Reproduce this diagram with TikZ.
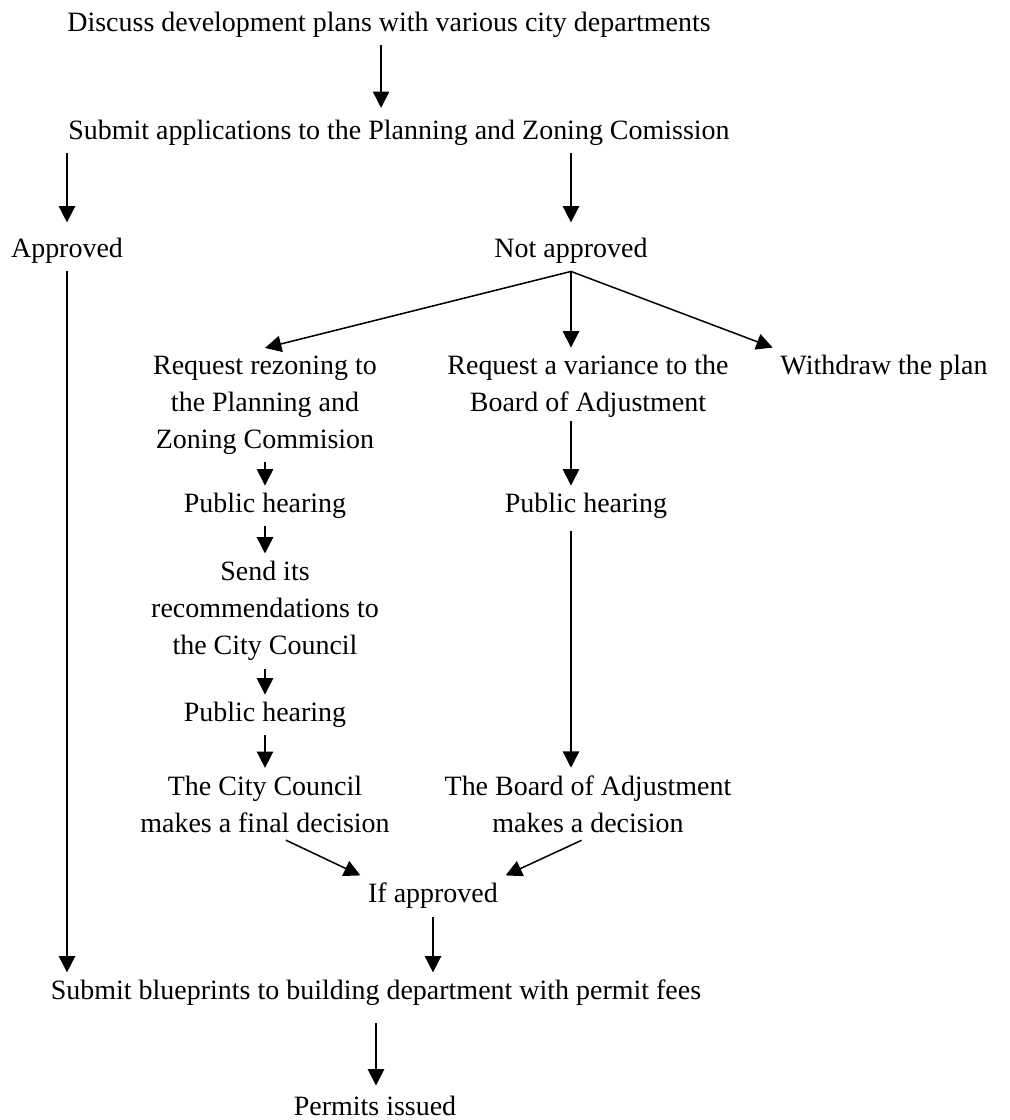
\documentclass[tikz,border=0pt]{standalone}
\usepackage{fontspec}
\setmainfont{Liberation Serif}
\usetikzlibrary{positioning,arrows.meta}
\begin{document}
\begin{tikzpicture}[x=0.429pt,y=-0.429pt,every node/.style={align=center,inner sep=3pt,font=\fontsize{12}{15.9}\selectfont},>={Triangle[length=7pt,width=7pt]},line width=0.65pt]
\useasboundingbox (0,0) rectangle (1010,1120);

\node (discuss) at (389,25) {Discuss development plans with various city departments};
\node (submit) at (399,133) {Submit applications to the Planning and Zoning Comission};
\node (app) at (67,251) {Approved};
\node (notapp) at (571,251) {Not approved};
\node (rezone) at (265,405) {Request rezoning to\\the Planning and\\Zoning Commision};
\node (variance) at (588,386.5) {Request a variance to the\\Board of Adjustment};
\node (withdraw) at (884,368) {Withdraw the plan};
\node (ph1) at (265,506) {Public hearing};
\node (send) at (265,611) {Send its\\recommendations to\\the City Council};
\node (ph2) at (265,715) {Public hearing};
\node (council) at (265,804) {The City Council\\makes a final decision};
\node (phr) at (586,506) {Public hearing};
\node (board) at (588,804) {The Board of Adjustment\\makes a decision};
\node (ifapp) at (433,896) {If approved};
\node (blue) at (376,993) {Submit blueprints to building department with permit fees};
\node[anchor=base,inner sep=1pt] (permits) at (375,1115) {Permits issued};

\draw[->,shorten >=2pt] ([xshift=-3.4pt]discuss.south) -- ([xshift=-3.4pt]discuss.south |- submit.north);
\foreach \n in {app,notapp}
	\draw[->,shorten >=3.5pt] (\n |- submit.south) -- (\n.north);
\draw[->] (notapp.south) -- (rezone.north);
\draw[->] (notapp.south) -- (notapp.south |- variance.north);
\draw[->] (notapp.south) -- (withdraw.north west);

\foreach \a/\b in {rezone/ph1,ph1/send,send/ph2,ph2/council}
	\draw[->] (\a) -- (\b);
\draw[->,shorten <=-2pt] (notapp.south |- variance.south) -- (notapp.south |- phr.north);
\draw[->,shorten <=2pt] (notapp.south |- phr.south) -- (notapp.south |- board.north);

\draw[->] (council.-60) -- (ifapp.north west);
\draw[->] (board.-100) -- (ifapp.north east);
\draw[->] (ifapp.south) -- (ifapp.south |- blue.north);
\draw[->] (app.south) -- (app.south |- blue.north);
\draw[->,shorten <=4pt,shorten >=3pt] (blue.south) -- (blue.south |- permits.north);
\end{tikzpicture}
\end{document}
